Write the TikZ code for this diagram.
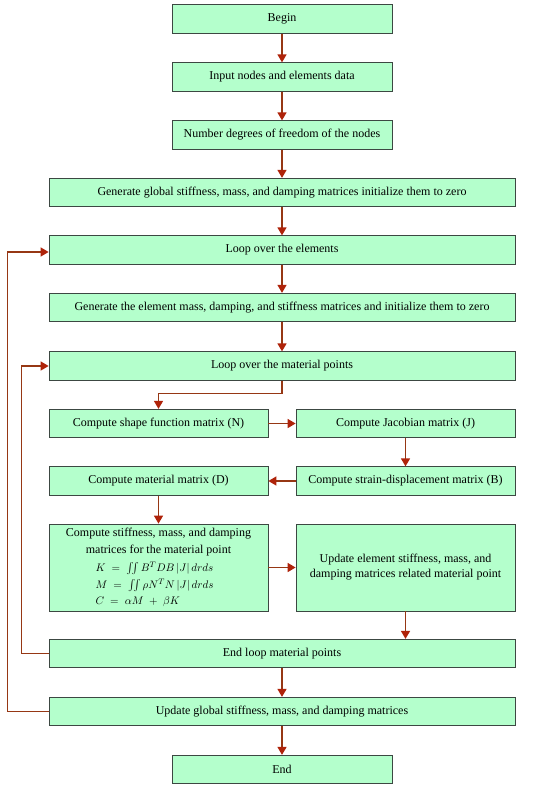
\documentclass[tikz,border=0pt]{standalone}
\usepackage{amsmath}
\usepackage{fontspec}
\setmainfont{Liberation Serif}
\usetikzlibrary{arrows.meta,calc}
\definecolor{boxfill}{RGB}{180,255,204}
\definecolor{boxline}{RGB}{60,72,66}
\definecolor{arrline}{RGB}{150,55,20}
\definecolor{arrhead}{RGB}{175,35,10}
\tikzset{
  fbox/.style={draw=boxline, fill=boxfill, line width=0.8pt, inner sep=2pt,
    minimum height=28.5pt, font=\fontsize{12}{15}\selectfont, align=center},
  nwide/.style={fbox, minimum width=220pt},
  wwide/.style={fbox, minimum width=466pt},
  half/.style={fbox, minimum width=219pt},
  arr/.style={draw=arrline, line width=1.6pt,
    -{Triangle[length=8pt,width=9pt,color=arrhead]}},
}
\begin{document}
\begin{tikzpicture}[x=1pt,y=-1pt]
\useasboundingbox[fill=white] (0,0) rectangle (550,791);
\node[nwide] (begin) at (282,19) {Begin};
\node[nwide] (input) at (282,77) {Input nodes and elements data};
\node[nwide] (number) at (282,135) {Number degrees of freedom of the nodes};
\node[wwide] (genglob) at (282,192.5) {Generate global stiffness, mass, and damping matrices initialize them to zero};
\node[wwide] (loopel) at (282,250) {Loop over the elements};
\node[wwide] (genel) at (282,307.5) {Generate the element mass, damping, and stiffness matrices and initialize them to zero};
\node[wwide] (loopmp) at (282,366) {Loop over the material points};
\node[half] (shapeN) at (158.5,423.5) {Compute shape function matrix (N)};
\node[half] (jac) at (405.5,423.5) {Compute Jacobian matrix (J)};
\node[half] (matD) at (158.5,481) {Compute material matrix (D)};
\node[half] (strainB) at (405.5,481) {Compute strain-displacement matrix (B)};
\node[half, minimum height=87pt] (stiff) at (158.5,567.5) {%
  \parbox{214pt}{\centering\baselineskip=16.5pt Compute stiffness, mass, and damping\\ matrices for the material point\par
  \vspace{2pt}\raggedright\fontsize{11}{16.5}\selectfont
  \hspace*{44pt}$K\;=\;\iint B^T DB\left|J\right|drds$\\
  \hspace*{44pt}$M\;=\;\iint \rho N^T N\left|J\right|drds$\\
  \hspace*{44pt}$C\;=\;\alpha M\;+\;\beta K$}};
\node[half, minimum height=87pt] (upel) at (405.5,567.5) {Update element stiffness, mass, and\\ damping matrices related material point};
\node[wwide] (endloop) at (282,653.5) {End loop material points};
\node[wwide] (upglob) at (282,711.5) {Update global stiffness, mass, and damping matrices};
\node[nwide] (end) at (282,769.5) {End};
\draw[arr] (begin) -- (input);
\draw[arr] (input) -- (number);
\draw[arr] (number) -- (genglob);
\draw[arr] (genglob) -- (loopel);
\draw[arr] (loopel) -- (genel);
\draw[arr] (genel) -- (loopmp);
\draw[arr] (loopmp.south) -- ++(0,13) -| (shapeN.north);
\draw[arr] (shapeN) -- (jac);
\draw[arr] (jac) -- (strainB);
\draw[arr] (strainB) -- (matD);
\draw[arr] (matD) -- (stiff);
\draw[arr] (stiff) -- (upel);
\draw[arr] (upel.south) -- (upel.south |- endloop.north);
\draw[arr] (endloop) -- (upglob);
\draw[arr] (upglob) -- (end);
\draw[arr] (endloop.west) -- ++(-27,0) |- (loopmp.west);
\draw[arr] (upglob.west) -- ++(-41,0) |- ($(loopel.west)+(0,2)$);
\end{tikzpicture}
\end{document}
